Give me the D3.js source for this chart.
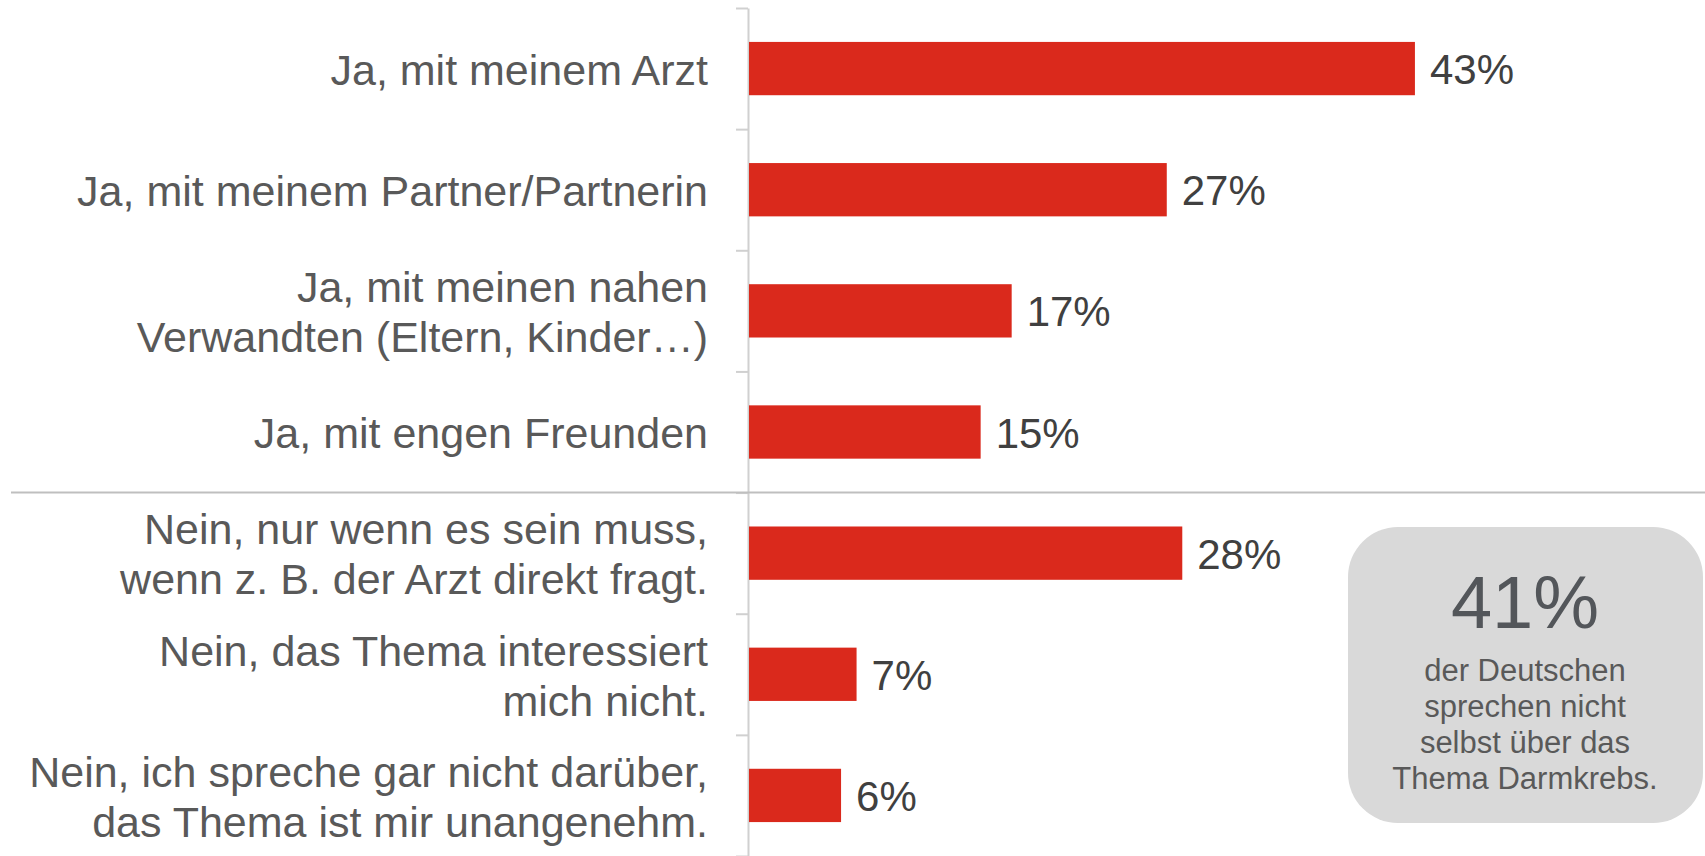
<!DOCTYPE html>
<html>
<head>
<meta charset="utf-8">
<script src="https://cdn.jsdelivr.net/npm/d3@7"></script>
<style>
  body { margin: 0; background: #fff; }
  text { font-family: "Liberation Sans", Arial, sans-serif; }
</style>
</head>
<body>
<div id="chart"></div>
<script>
var svgWidth = 1705;
var svgHeight = 856;

// Data
var categories = [
  ["Ja, mit meinem Arzt"],
  ["Ja, mit meinem Partner/Partnerin"],
  ["Ja, mit meinen nahen", "Verwandten (Eltern, Kinder…)"],
  ["Ja, mit engen Freunden"],
  ["Nein, nur wenn es sein muss,", "wenn z. B. der Arzt direkt fragt."],
  ["Nein, das Thema interessiert", "mich nicht."],
  ["Nein, ich spreche gar nicht darüber,", "das Thema ist mir unangenehm."]
];
var values = [43, 27, 17, 15, 28, 7, 6];
var calloutValue = "41%";
var calloutLines = ["der Deutschen", "sprechen nicht", "selbst über das", "Thema Darmkrebs."];

var axisX = 748;
var plotTop = 8;
var plotBottom = 856;

var svg = d3.select("#chart")
  .append("svg")
  .attr("width", svgWidth)
  .attr("height", svgHeight);

var idx = d3.range(categories.length);

// y scale (band per category)
var yScale = d3.scaleBand()
  .domain(idx)
  .range([plotTop, plotBottom])
  .paddingInner(0.56)
  .paddingOuter(0.28);

var xScale = d3.scaleLinear()
  .domain([0, 50])
  .range([axisX, axisX + 775.5]);

// axis with ticks at band boundaries
var edgeScale = d3.scaleLinear()
  .domain([0, categories.length])
  .range([plotTop, plotBottom]);

var leftAxis = d3.axisLeft(edgeScale)
  .tickValues(d3.range(categories.length + 1))
  .tickSize(12)
  .tickSizeOuter(0)
  .tickFormat("");

var axisG = svg.append("g")
  .attr("transform", `translate(${axisX}, 0)`)
  .call(leftAxis);
axisG.selectAll("path, line")
  .attr("stroke", "#d0d0d0")
  .attr("stroke-width", 2);

// divider between Ja and Nein
svg.append("line")
  .attr("x1", 11)
  .attr("x2", svgWidth)
  .attr("y1", edgeScale(4))
  .attr("y2", edgeScale(4))
  .attr("stroke", "#bfbfbf")
  .attr("stroke-width", 2);

// bars
svg.selectAll("rect.bar")
  .data(values)
  .enter()
  .append("rect")
  .attr("class", "bar")
  .attr("x", xScale(0) + 1)
  .attr("y", (d, i) => yScale(i))
  .attr("width", d => xScale(d) - xScale(0) - 1)
  .attr("height", yScale.bandwidth())
  .attr("fill", "#da291c");

// value labels
svg.selectAll("text.value")
  .data(values)
  .enter()
  .append("text")
  .attr("class", "value")
  .attr("x", d => xScale(d) + 15)
  .attr("y", (d, i) => yScale(i) + yScale.bandwidth() / 2)
  .attr("dy", "0.37em")
  .attr("font-size", "42px")
  .attr("fill", "#404040")
  .text(d => d + "%");

// category labels
var labelG = svg.selectAll("text.cat")
  .data(categories)
  .enter()
  .append("text")
  .attr("class", "cat")
  .attr("text-anchor", "end")
  .attr("font-size", "43px")
  .attr("fill", "#595959");

labelG.each(function(lines, i) {
  var cy = yScale(i) + yScale.bandwidth() / 2;
  var start = cy - (lines.length - 1) * 25;
  d3.select(this).selectAll("tspan")
    .data(lines)
    .enter()
    .append("tspan")
    .attr("x", 708)
    .attr("y", (d, j) => start + j * 50)
    .attr("dy", "0.38em")
    .text(d => d);
});

// callout box
var box = svg.append("g");
box.append("rect")
  .attr("x", 1348)
  .attr("y", 527)
  .attr("width", 355)
  .attr("height", 296)
  .attr("rx", 50)
  .attr("ry", 50)
  .attr("fill", "#d9d9d9");

box.append("text")
  .attr("x", 1525)
  .attr("y", 628)
  .attr("text-anchor", "middle")
  .attr("font-size", "74px")
  .attr("fill", "#53565a")
  .text(calloutValue);

box.selectAll("text.sub")
  .data(calloutLines)
  .enter()
  .append("text")
  .attr("class", "sub")
  .attr("x", 1525)
  .attr("y", (d, i) => 681 + i * 36)
  .attr("text-anchor", "middle")
  .attr("font-size", "31px")
  .attr("fill", "#595959")
  .text(d => d);
</script>
</body>
</html>
